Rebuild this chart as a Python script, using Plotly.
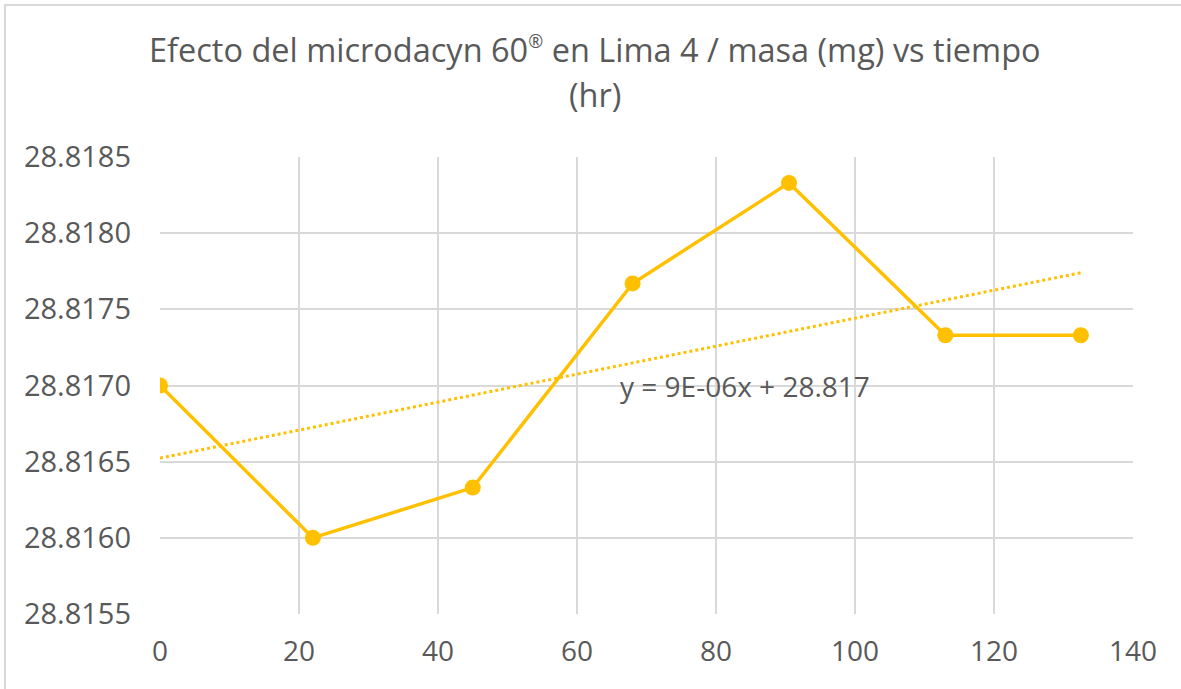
import numpy as np
import plotly.graph_objects as go

tiempo_hr = [0, 22, 45, 68, 90.5, 113, 132.5]
masa_mg = [28.8170, 28.8160, 28.81633, 28.81767, 28.81833, 28.81733, 28.81733]
title_line1 = "Efecto del microdacyn 60<sup><span style='font-size:18px'>®</span></sup> en Lima 4 / masa (mg) vs tiempo"
title_line2 = "(hr)"
eq_text = "y = 9E-06x + 28.817"
x_ticks = [0, 20, 40, 60, 80, 100, 120, 140]
y_ticks = [28.8155, 28.8160, 28.8165, 28.8170, 28.8175, 28.8180, 28.8185]

color = "#FFC000"
txt = "#595959"
font = "Open Sans"

slope, intercept = np.polyfit(tiempo_hr, masa_mg, 1)
trend_x = [tiempo_hr[0], tiempo_hr[-1]]
trend_y = [slope * v + intercept for v in trend_x]

fig = go.Figure()
fig.add_trace(go.Scatter(x=trend_x, y=trend_y, mode="lines",
                         line=dict(color=color, width=3, dash="dot"),
                         showlegend=False, hoverinfo="skip"))
fig.add_trace(go.Scatter(x=tiempo_hr, y=masa_mg, mode="lines+markers",
                         line=dict(color=color, width=3.5),
                         marker=dict(color=color, size=16),
                         showlegend=False))

fig.add_annotation(x=84.2, y=28.8170, xref="x", yref="y", text=eq_text,
                   showarrow=False, font=dict(family=font, size=28, color=txt),
                   xanchor="center", yanchor="middle")

fig.add_annotation(x=0.447, y=1.236, xref="paper", yref="paper", text=title_line1,
                   showarrow=False, font=dict(family=font, size=32.5, color=txt),
                   xanchor="center", yanchor="middle")
fig.add_annotation(x=0.447, y=1.137, xref="paper", yref="paper", text=title_line2,
                   showarrow=False, font=dict(family=font, size=32.5, color=txt),
                   xanchor="center", yanchor="middle")

fig.add_shape(type="rect", xref="paper", yref="paper",
              x0=-0.1593, x1=1.2, y0=-0.5, y1=1.3326,
              line=dict(color="#D9D9D9", width=2), fillcolor="rgba(0,0,0,0)", layer="below")

fig.update_layout(
    width=1181, height=689,
    margin=dict(l=160, r=48, t=157, b=75),
    paper_bgcolor="white", plot_bgcolor="white",
    xaxis=dict(range=[0, 140], tickvals=x_ticks, showgrid=True, gridcolor="#D9D9D9",
               gridwidth=2, zeroline=False, showline=False, ticks="",
               ticklabelstandoff=18,
               tickfont=dict(family=font, size=28, color=txt)),
    yaxis=dict(range=[28.8155, 28.8185], tickvals=y_ticks, tickformat=".4f",
               showgrid=True, gridcolor="#D9D9D9", gridwidth=2, zeroline=False,
               showline=False, ticks="", ticklabelstandoff=28,
               tickfont=dict(family=font, size=29, color=txt)),
)
fig.write_html("out.html", config={"displayModeBar": False},
               post_script="document.body.style.margin='0';")
